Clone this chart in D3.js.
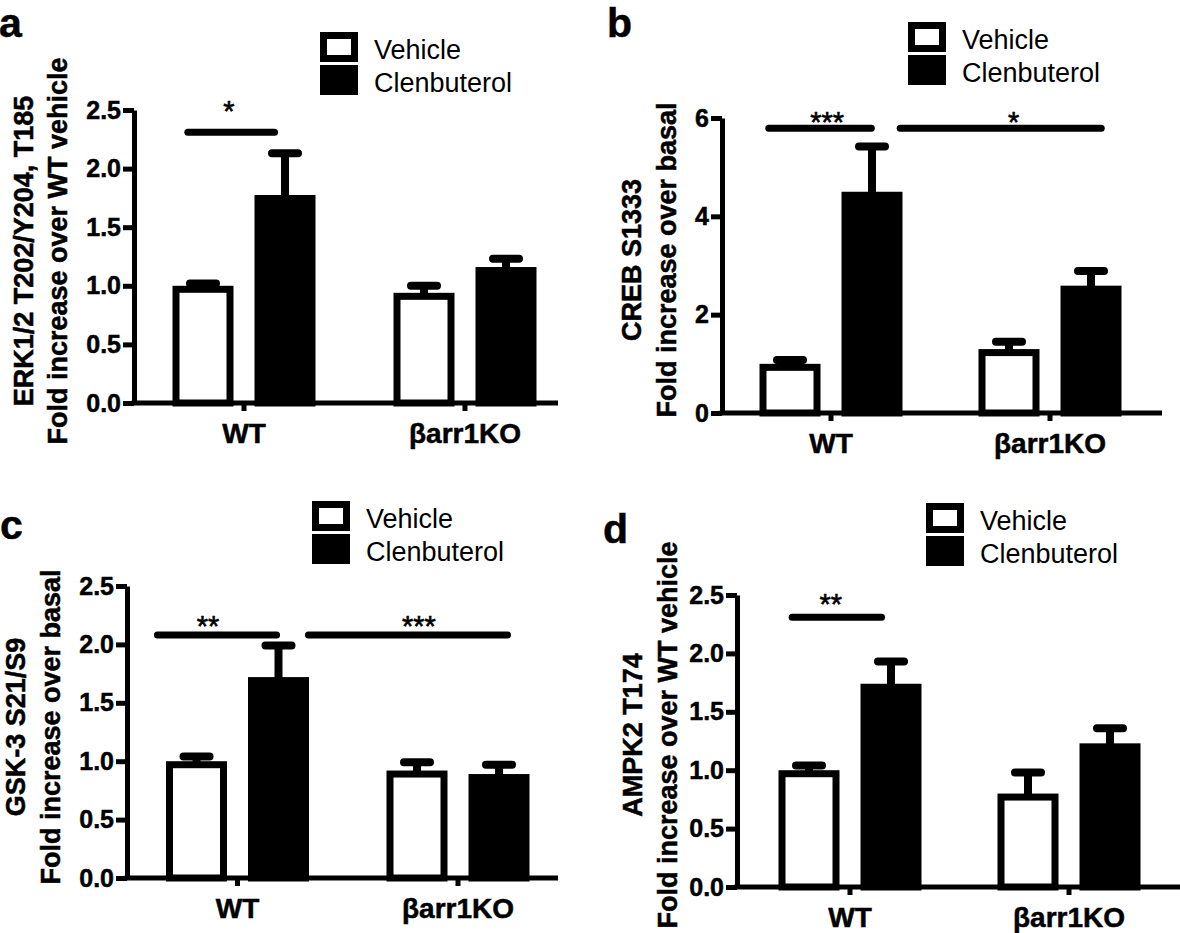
<!DOCTYPE html>
<html>
<head>
<meta charset="utf-8">
<script src="https://cdn.jsdelivr.net/npm/d3@7"></script>
<style>
  html, body { margin: 0; padding: 0; background: #fff; }
  svg { display: block; }
</style>
</head>
<body>
<svg id="chart" width="1180" height="933"></svg>
<script>
// ---------------- DATA ----------------
const groups = ["WT", "\u03B2arr1KO"];
const seriesNames = ["Vehicle", "Clenbuterol"];

// Panel a: ERK1/2
const erkVehicle = [1.00, 0.94];
const erkVehicleSem = [0.02, 0.06];
const erkClen = [1.775, 1.16];
const erkClenSem = [0.355, 0.07];
const erkTicks = [0, 0.5, 1.0, 1.5, 2.0, 2.5];
const erkSig = [{ x1: -0.27, x2: 0.154, y: 2.31, label: "*", lx: -0.068, ly: 2.525 }];

// Panel b: CREB
const crebVehicle = [1.00, 1.30];
const crebVehicleSem = [0.08, 0.15];
const crebClen = [4.50, 2.59];
const crebClenSem = [0.92, 0.30];
const crebTicks = [0, 2, 4, 6];
const crebSig = [
  { x1: -0.30, x2: 0.20, y: 5.79, label: "***", lx: -0.018, ly: 6.01 },
  { x1: 0.30, x2: 1.25, y: 5.79, label: "*", lx: 0.834, ly: 6.01 }
];

// Panel c: GSK-3
const gskVehicle = [1.00, 0.92];
const gskVehicleSem = [0.04, 0.07];
const gskClen = [1.72, 0.89];
const gskClenSem = [0.27, 0.08];
const gskTicks = [0, 0.5, 1.0, 1.5, 2.0, 2.5];
const gskSig = [
  { x1: -0.379, x2: 0.193, y: 2.08, label: "**", lx: -0.134, ly: 2.19 },
  { x1: 0.306, x2: 1.24, y: 2.08, label: "***", lx: 0.823, ly: 2.19 }
];

// Panel d: AMPK2
const ampkVehicle = [1.00, 0.80];
const ampkVehicleSem = [0.04, 0.18];
const ampkClen = [1.74, 1.23];
const ampkClenSem = [0.19, 0.13];
const ampkTicks = [0, 0.5, 1.0, 1.5, 2.0, 2.5];
const ampkSig = [{ x1: -0.28, x2: 0.16, y: 2.31, label: "**", lx: -0.088, ly: 2.457 }];

// ---------------- LAYOUT ----------------
const panels = [
  { letter: "a", vehicle: erkVehicle, vSem: erkVehicleSem, clen: erkClen, cSem: erkClenSem,
    ticks: erkTicks, fmt: ".1f", sig: erkSig, yMax: 2.5,
    title1: "ERK1/2 T202/Y204, T185", title2: "Fold increase over WT vehicle",
    axisX: 134, y0: 403, yTop: 110, xEnd: 558, g0: 244, g1: 465,
    legendX: 320, legendY: 32, labelX: -1, labelY: 37, yl1X: 33, yl2X: 67, ylY: 251 },
  { letter: "b", vehicle: crebVehicle, vSem: crebVehicleSem, clen: crebClen, cSem: crebClenSem,
    ticks: crebTicks, fmt: "d", sig: crebSig, yMax: 6,
    title1: "CREB S1333", title2: "Fold increase over basal",
    axisX: 722, y0: 413, yTop: 118, xEnd: 1162, g0: 831, g1: 1050,
    legendX: 908, legendY: 22, labelX: 607, labelY: 37, yl1X: 641, yl2X: 676, ylY: 260 },
  { letter: "c", vehicle: gskVehicle, vSem: gskVehicleSem, clen: gskClen, cSem: gskClenSem,
    ticks: gskTicks, fmt: ".1f", sig: gskSig, yMax: 2.5,
    title1: "GSK-3 S21/S9", title2: "Fold increase over basal",
    axisX: 127, y0: 878, yTop: 586, xEnd: 558, g0: 237.5, g1: 458,
    legendX: 312, legendY: 501, labelX: 0, labelY: 539, yl1X: 25, yl2X: 60, ylY: 727 },
  { letter: "d", vehicle: ampkVehicle, vSem: ampkVehicleSem, clen: ampkClen, cSem: ampkClenSem,
    ticks: ampkTicks, fmt: ".1f", sig: ampkSig, yMax: 2.5,
    title1: "AMPK2 T174", title2: "Fold increase over WT vehicle",
    axisX: 737, y0: 887, yTop: 595, xEnd: 1180, g0: 850, g1: 1069,
    legendX: 926, legendY: 503, labelX: 603, labelY: 543, yl1X: 642, yl2X: 677, ylY: 735 }
];

const FONT = "'Liberation Sans', Arial, Helvetica, sans-serif";
const BAR_SW = 7;      // bar outline
const AXIS_SW = 5;     // axis line width
const ERR_SW = 8;      // error bar width
const CAP_HALF = 13;   // error cap half width
const SIG_SW = 7;

const svg = d3.select("#chart");
svg.append("rect").attr("width", 1180).attr("height", 933).attr("fill", "#fff");

function boldText(sel, size) {
  sel.style("font-family", FONT).style("font-size", size + "px").style("font-weight", "bold")
    .attr("fill", "#000").attr("stroke", "#000").attr("stroke-width", 0.5)
    .attr("paint-order", "stroke");
}

panels.forEach(p => {
  const g = svg.append("g");

  const y = d3.scaleLinear().domain([0, p.yMax]).range([p.y0, p.yTop]);
  const step = p.g1 - p.g0;
  const x0 = d3.scaleBand().domain(groups).range([p.g0 - step / 2, p.g1 + step / 2]);
  const x1 = d3.scaleBand().domain(seriesNames).range([-71.5, 71.5]).paddingInner(21 / 82);
  const xg = d3.scaleLinear().domain([0, 1]).range([p.g0, p.g1]);
  const bw = x1.bandwidth();

  const rows = [];
  groups.forEach((grp, i) => {
    rows.push({ grp, s: "Vehicle", v: p.vehicle[i], e: p.vSem[i] });
    rows.push({ grp, s: "Clenbuterol", v: p.clen[i], e: p.cSem[i] });
  });
  const left = d => x0(d.grp) + x0.bandwidth() / 2 + x1(d.s);

  // bars
  g.selectAll("rect.bar").data(rows).enter().append("rect")
    .attr("class", "bar")
    .attr("x", d => left(d) + BAR_SW / 2)
    .attr("y", d => y(d.v) + BAR_SW / 2)
    .attr("width", bw - BAR_SW)
    .attr("height", d => y(0) - y(d.v) - BAR_SW / 2)
    .attr("fill", d => d.s === "Vehicle" ? "#fff" : "#000")
    .attr("stroke", "#000")
    .attr("stroke-width", BAR_SW);

  // error bars (upward)
  g.selectAll("line.err").data(rows).enter().append("line")
    .attr("x1", d => left(d) + bw / 2).attr("x2", d => left(d) + bw / 2)
    .attr("y1", d => y(d.v) + 2).attr("y2", d => y(d.v + d.e))
    .attr("stroke", "#000").attr("stroke-width", ERR_SW);
  g.selectAll("line.cap").data(rows).enter().append("line")
    .attr("x1", d => left(d) + bw / 2 - CAP_HALF).attr("x2", d => left(d) + bw / 2 + CAP_HALF)
    .attr("y1", d => y(d.v + d.e)).attr("y2", d => y(d.v + d.e))
    .attr("stroke", "#000").attr("stroke-width", ERR_SW).attr("stroke-linecap", "round");

  // y axis
  const yAxis = g.append("g").attr("transform", `translate(${p.axisX},0)`)
    .call(d3.axisLeft(y).tickValues(p.ticks).tickFormat(d3.format(p.fmt))
      .tickSize(11).tickPadding(2).tickSizeOuter(0));
  yAxis.select(".domain").attr("stroke", "#000").attr("stroke-width", AXIS_SW);
  yAxis.selectAll(".tick line").attr("stroke", "#000").attr("stroke-width", AXIS_SW);
  boldText(yAxis.selectAll(".tick text"), 25);

  // x axis
  g.append("line")
    .attr("x1", p.axisX - AXIS_SW / 2).attr("x2", p.xEnd)
    .attr("y1", y(0)).attr("y2", y(0))
    .attr("stroke", "#000").attr("stroke-width", AXIS_SW);
  const xAxis = g.append("g").attr("transform", `translate(0,${y(0)})`)
    .call(d3.axisBottom(x0).tickSize(8).tickPadding(12).tickSizeOuter(0));
  xAxis.select(".domain").remove();
  xAxis.selectAll(".tick line").attr("stroke", "#000").attr("stroke-width", AXIS_SW);
  boldText(xAxis.selectAll(".tick text"), 28);

  // significance bars
  g.selectAll("line.sig").data(p.sig).enter().append("line")
    .attr("x1", d => xg(d.x1) + SIG_SW / 2).attr("x2", d => xg(d.x2) - SIG_SW / 2)
    .attr("y1", d => y(d.y)).attr("y2", d => y(d.y))
    .attr("stroke", "#000").attr("stroke-width", SIG_SW).attr("stroke-linecap", "round");
  g.selectAll("text.star").data(p.sig).enter().append("text")
    .attr("x", d => xg(d.lx)).attr("y", d => y(d.ly) + 14)
    .attr("text-anchor", "middle")
    .style("font-family", FONT).style("font-size", "29px")
    .attr("stroke", "#000").attr("stroke-width", 0.6)
    .text(d => d.label);

  // y title (two lines)
  [[p.title1, p.yl1X], [p.title2, p.yl2X]].forEach(([t, xx]) => {
    const tt = g.append("text")
      .attr("transform", `translate(${xx},${p.ylY}) rotate(-90)`)
      .attr("text-anchor", "middle")
      .text(t);
    boldText(tt, 27);
  });

  // legend
  const lg = g.append("g").attr("transform", `translate(${p.legendX},${p.legendY})`);
  seriesNames.forEach((s, i) => {
    lg.append("rect")
      .attr("x", 3.5).attr("y", i * 33 + 3.5)
      .attr("width", 38 - 7).attr("height", 30 - 7)
      .attr("fill", s === "Vehicle" ? "#fff" : "#000")
      .attr("stroke", "#000").attr("stroke-width", 7);
    lg.append("text")
      .attr("x", 54).attr("y", i * 33 + 27)
      .style("font-family", FONT).style("font-size", "27px")
      .text(s);
  });

  // panel letter
  const lt = g.append("text")
    .attr("x", p.labelX).attr("y", p.labelY)
    .text(p.letter);
  boldText(lt, 41);
});
</script>
</body>
</html>
